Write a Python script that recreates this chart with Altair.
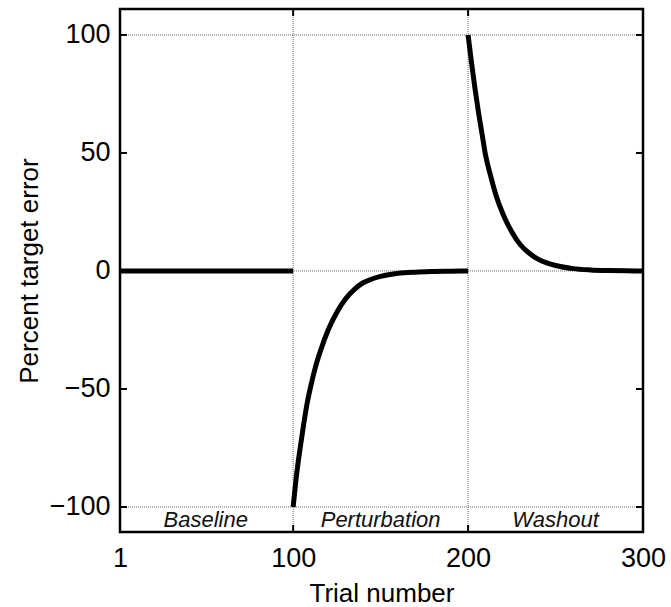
import altair as alt
import pandas as pd

# Trial-by-trial target error for the three phases
baseline_trials = [1, 100]
baseline_error = [0, 0]

perturbation_trials = [100, 102, 104, 106, 108, 110, 113, 116, 120, 125,
                       130, 135, 140, 145, 150, 160, 170, 180, 190, 200]
perturbation_error = [-100, -86, -75, -65, -56, -49, -40, -33, -25, -17.5,
                      -11.8, -7.8, -5.0, -3.4, -2.3, -1.0, -0.5, -0.25, -0.1, 0]

washout_trials = [200, 202, 204, 206, 208, 210, 213, 216, 220, 225,
                  230, 235, 240, 245, 250, 260, 270, 280, 290, 300]
washout_error = [100, 88, 77, 67, 58, 49, 40, 32, 24, 16.5,
                 11, 7.5, 5, 3.4, 2.3, 1, 0.45, 0.2, 0.08, 0]

phase_names = ["Baseline", "Perturbation", "Washout"]
phase_centers = [50, 150, 250]
phase_label_y = [-105.5, -105.5, -105.5]

x_ticks = [1, 100, 200, 300]
y_ticks = [-100, -50, 0, 50, 100]
x_grid = [100, 200]
y_grid = [-100, 0, 100]

X_DOMAIN = [1, 300]
Y_DOMAIN = [-110.6, 111]
W, H = 523, 523
FONT = "Liberation Sans"

rows = []
for name, xs, ys in [("Baseline", baseline_trials, baseline_error),
                     ("Perturbation", perturbation_trials, perturbation_error),
                     ("Washout", washout_trials, washout_error)]:
    for t, e in zip(xs, ys):
        rows.append({"phase": name, "trial": t, "error": e})
curve_df = pd.DataFrame(rows)

xs = alt.Scale(domain=X_DOMAIN, nice=False, zero=False)
ys = alt.Scale(domain=Y_DOMAIN, nice=False, zero=False)

x_axis = alt.Axis(values=x_ticks, grid=False, ticks=False, domain=False,
                  labelFontSize=27, labelFont=FONT, labelColor="black",
                  labelPadding=13, title="Trial number", titleFontSize=26,
                  titleFont=FONT, titleFontWeight="normal", titleColor="black",
                  titlePadding=9, labelFlush=False)
y_axis = alt.Axis(values=y_ticks, grid=False, ticks=False, domain=False,
                  labelFontSize=27, labelFont=FONT, labelColor="black",
                  labelPadding=10, title="Percent target error", titleFontSize=26,
                  titleFont=FONT, titleFontWeight="normal", titleColor="black",
                  titlePadding=7)

# Dotted reference lines
vgrid = alt.Chart(pd.DataFrame({"trial": x_grid})).mark_rule(
    color="#666", strokeWidth=1, strokeDash=[1, 1]
).encode(x=alt.X("trial:Q", scale=xs, axis=x_axis))
hgrid = alt.Chart(pd.DataFrame({"error": y_grid})).mark_rule(
    color="#666", strokeWidth=1, strokeDash=[1, 1]
).encode(y=alt.Y("error:Q", scale=ys, axis=y_axis))

# Inward tick marks on all four sides
ytick_df = pd.DataFrame({"error": y_ticks})
xtick_df = pd.DataFrame({"trial": x_ticks})
tick_style = dict(color="black", strokeWidth=2)
left_ticks = alt.Chart(ytick_df).mark_rule(**tick_style).encode(
    y=alt.Y("error:Q", scale=ys), x=alt.value(0), x2=alt.value(7))
right_ticks = alt.Chart(ytick_df).mark_rule(**tick_style).encode(
    y=alt.Y("error:Q", scale=ys), x=alt.value(W - 7), x2=alt.value(W))
bottom_ticks = alt.Chart(xtick_df).mark_rule(**tick_style).encode(
    x=alt.X("trial:Q", scale=xs), y=alt.value(H - 7), y2=alt.value(H))
top_ticks = alt.Chart(xtick_df).mark_rule(**tick_style).encode(
    x=alt.X("trial:Q", scale=xs), y=alt.value(0), y2=alt.value(7))

curve = alt.Chart(curve_df).mark_line(
    color="black", strokeWidth=5, interpolate="monotone", strokeCap="butt"
).encode(
    x=alt.X("trial:Q", scale=xs),
    y=alt.Y("error:Q", scale=ys),
    detail="phase:N",
)

labels = alt.Chart(pd.DataFrame({"name": phase_names, "trial": phase_centers,
                                 "error": phase_label_y})).mark_text(
    font=FONT, fontSize=22, fontStyle="italic", color="#111", baseline="middle"
).encode(
    x=alt.X("trial:Q", scale=xs),
    y=alt.Y("error:Q", scale=ys),
    text="name:N",
)

chart = alt.layer(
    vgrid, hgrid, left_ticks, right_ticks, bottom_ticks, top_ticks, curve, labels
).properties(
    width=W, height=H,
    background="white",
    autosize=alt.AutoSizeParams(type="none"),
    padding={"left": 120, "top": 9, "right": 28, "bottom": 75},
).configure_view(
    stroke="black", strokeWidth=2.5
)

chart.save("out.html", embed_options={"renderer": "svg", "actions": False})
